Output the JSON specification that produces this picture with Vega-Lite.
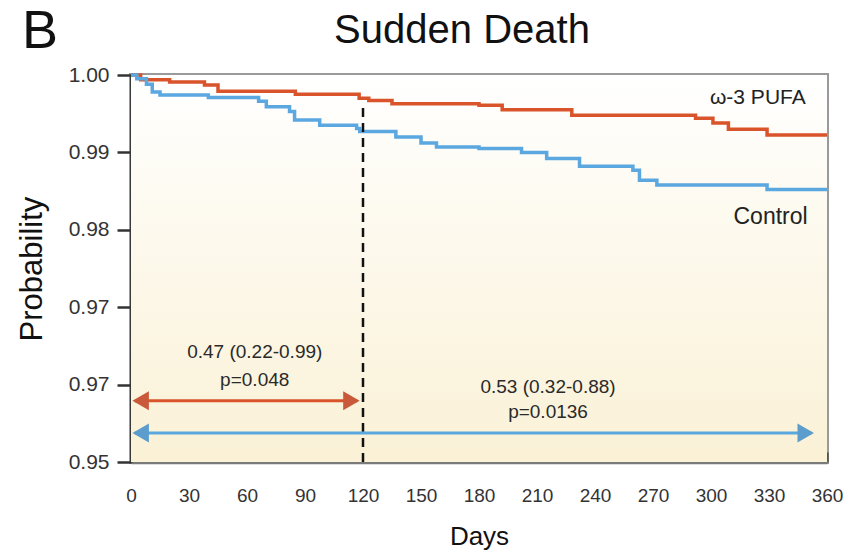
{
  "$schema": "https://vega.github.io/schema/vega-lite/v6.json",
  "width": 696,
  "height": 387,
  "autosize": {"type": "none"},
  "padding": {"left": 131, "top": 75, "right": 36, "bottom": 90},
  "background": "#ffffff",
  "config": {
    "view": {"stroke": "#9a9a9a", "strokeWidth": 4},
    "axis": {"grid": false, "labelFont": "Liberation Sans", "titleFont": "Liberation Sans", "labelColor": "#333333", "titleColor": "#111111", "titleFontWeight": "normal"}
  },
  "datasets": {
    "curves": [
      {"group": "ω-3 PUFA", "day": 0, "prob": 1.0},
      {"group": "ω-3 PUFA", "day": 5, "prob": 0.9994},
      {"group": "ω-3 PUFA", "day": 20, "prob": 0.9991},
      {"group": "ω-3 PUFA", "day": 38, "prob": 0.9987},
      {"group": "ω-3 PUFA", "day": 45, "prob": 0.9979},
      {"group": "ω-3 PUFA", "day": 85, "prob": 0.9975},
      {"group": "ω-3 PUFA", "day": 118, "prob": 0.997},
      {"group": "ω-3 PUFA", "day": 123, "prob": 0.9967},
      {"group": "ω-3 PUFA", "day": 135, "prob": 0.9963},
      {"group": "ω-3 PUFA", "day": 180, "prob": 0.9961},
      {"group": "ω-3 PUFA", "day": 192, "prob": 0.9955},
      {"group": "ω-3 PUFA", "day": 228, "prob": 0.9948},
      {"group": "ω-3 PUFA", "day": 292, "prob": 0.9944},
      {"group": "ω-3 PUFA", "day": 301, "prob": 0.9938},
      {"group": "ω-3 PUFA", "day": 309, "prob": 0.993},
      {"group": "ω-3 PUFA", "day": 329, "prob": 0.99225},
      {"group": "ω-3 PUFA", "day": 360, "prob": 0.99225},
      {"group": "Control", "day": 0, "prob": 1.0},
      {"group": "Control", "day": 3, "prob": 0.9995},
      {"group": "Control", "day": 8, "prob": 0.9988},
      {"group": "Control", "day": 11, "prob": 0.9978},
      {"group": "Control", "day": 15, "prob": 0.9974},
      {"group": "Control", "day": 40, "prob": 0.9971},
      {"group": "Control", "day": 66, "prob": 0.9966},
      {"group": "Control", "day": 70, "prob": 0.9959},
      {"group": "Control", "day": 82, "prob": 0.9953},
      {"group": "Control", "day": 84.6, "prob": 0.9942},
      {"group": "Control", "day": 97.6, "prob": 0.9935},
      {"group": "Control", "day": 116.7, "prob": 0.9931},
      {"group": "Control", "day": 118.3, "prob": 0.9927},
      {"group": "Control", "day": 137, "prob": 0.992},
      {"group": "Control", "day": 150, "prob": 0.9912},
      {"group": "Control", "day": 158, "prob": 0.9907},
      {"group": "Control", "day": 180, "prob": 0.9905},
      {"group": "Control", "day": 202, "prob": 0.99},
      {"group": "Control", "day": 215, "prob": 0.9892},
      {"group": "Control", "day": 232, "prob": 0.9882},
      {"group": "Control", "day": 259.6, "prob": 0.9877},
      {"group": "Control", "day": 263, "prob": 0.9864},
      {"group": "Control", "day": 272, "prob": 0.9858},
      {"group": "Control", "day": 325, "prob": 0.9858},
      {"group": "Control", "day": 329, "prob": 0.9852},
      {"group": "Control", "day": 360, "prob": 0.9852}
    ],
    "arrows": [
      {"period": "early", "start": 2, "end": 117, "prob": 0.9579},
      {"period": "late", "start": 2, "end": 352, "prob": 0.95375}
    ],
    "heads": [
      {"period": "early", "day": 5, "prob": 0.9579, "dir": "left"},
      {"period": "early", "day": 114, "prob": 0.9579, "dir": "right"},
      {"period": "late", "day": 5, "prob": 0.95375, "dir": "left"},
      {"period": "late", "day": 349, "prob": 0.95375, "dir": "right"}
    ],
    "notes": [
      {"label": "0.47 (0.22-0.99)", "day": 64, "prob": 0.9642},
      {"label": "p=0.048", "day": 64, "prob": 0.9606},
      {"label": "0.53 (0.32-0.88)", "day": 215.7, "prob": 0.9597},
      {"label": "p=0.0136", "day": 215.7, "prob": 0.9565}
    ],
    "one": [{}]
  },
  "encoding": {
    "x": {
      "type": "quantitative",
      "scale": {"domain": [0, 360], "nice": false, "zero": false},
      "axis": {
        "title": "Days",
        "values": [0, 30, 60, 90, 120, 150, 180, 210, 240, 270, 300, 330, 360],
        "labelFontSize": 19,
        "titleFontSize": 26,
        "titlePadding": 18,
        "tickSize": -10,
        "tickWidth": 2.5,
        "tickColor": "#555555",
        "labelPadding": 34,
        "domainColor": "#7a7a7a",
        "domainWidth": 3.5,
        "labelFlush": false
      }
    },
    "y": {
      "type": "quantitative",
      "scale": {"domain": [0.95, 1.0], "nice": false, "zero": false},
      "axis": {
        "title": "Probability",
        "values": [0.95, 0.96, 0.97, 0.98, 0.99, 1.0],
        "labelExpr": "abs(datum.value - 0.96) < 0.001 ? '0.97' : format(datum.value, '.2f')",
        "labelFontSize": 21,
        "titleFontSize": 31,
        "titlePadding": 20,
        "tickSize": 14,
        "tickWidth": 2.5,
        "tickColor": "#333333",
        "labelPadding": 8,
        "domainColor": "#3a3a3a",
        "domainWidth": 3,
        "labelFlush": false
      }
    }
  },
  "layer": [
    {
      "data": {"name": "one"},
      "mark": {"type": "rect", "fill": {"gradient": "linear", "x1": 0, "y1": 0, "x2": 0, "y2": 1, "stops": [{"offset": 0, "color": "#ffffff"}, {"offset": 0.35, "color": "#fdfaf0"}, {"offset": 1, "color": "#faf1d6"}]}},
      "encoding": {"x": {"datum": 0}, "x2": {"datum": 360}, "y": {"datum": 1.0}, "y2": {"datum": 0.95}}
    },
    {
      "data": {"name": "curves"},
      "mark": {"type": "line", "interpolate": "step-after", "strokeWidth": 3.5},
      "encoding": {
        "x": {"field": "day"},
        "y": {"field": "prob"},
        "color": {"field": "group", "type": "nominal", "scale": {"domain": ["ω-3 PUFA", "Control"], "range": ["#d9542b", "#5ba7e0"]}, "legend": null}
      }
    },
    {
      "data": {"name": "one"},
      "mark": {"type": "rule", "strokeDash": [9, 6], "strokeWidth": 2.5, "color": "#111111"},
      "encoding": {"x": {"datum": 120}, "y": {"datum": 0.95}, "y2": {"datum": 0.9964}}
    },
    {
      "data": {"name": "arrows"},
      "mark": {"type": "rule", "strokeWidth": 3},
      "encoding": {
        "x": {"field": "start"},
        "x2": {"field": "end"},
        "y": {"field": "prob"},
        "color": {"field": "period", "type": "nominal", "scale": {"domain": ["early", "late"], "range": ["#c9593a", "#5b9dcc"]}, "legend": null}
      }
    },
    {
      "data": {"name": "heads"},
      "mark": {"type": "point", "filled": true, "size": 360, "opacity": 1},
      "encoding": {
        "x": {"field": "day"},
        "y": {"field": "prob"},
        "shape": {"field": "dir", "type": "nominal", "scale": {"domain": ["left", "right"], "range": ["triangle-left", "triangle-right"]}, "legend": null},
        "fill": {"field": "period", "type": "nominal", "scale": {"domain": ["early", "late"], "range": ["#c9593a", "#5b9dcc"]}, "legend": null}
      }
    },
    {
      "data": {"name": "notes"},
      "mark": {"type": "text", "font": "Liberation Sans", "fontSize": 19, "color": "#2a2a2a", "align": "center", "baseline": "middle"},
      "encoding": {"x": {"field": "day"}, "y": {"field": "prob"}, "text": {"field": "label"}}
    },
    {
      "data": {"name": "one"},
      "mark": {"type": "text", "font": "Liberation Sans", "fontSize": 21, "color": "#222222", "align": "right", "baseline": "middle"},
      "encoding": {"x": {"datum": 349}, "y": {"datum": 0.99703}, "text": {"value": "ω-3 PUFA"}}
    },
    {
      "data": {"name": "one"},
      "mark": {"type": "text", "font": "Liberation Sans", "fontSize": 23, "color": "#222222", "align": "right", "baseline": "middle"},
      "encoding": {"x": {"datum": 350}, "y": {"datum": 0.98165}, "text": {"value": "Control"}}
    },
    {
      "data": {"name": "one"},
      "mark": {"type": "text", "font": "Liberation Sans", "fontSize": 40, "color": "#111111", "align": "center", "baseline": "middle"},
      "encoding": {"x": {"datum": 171.2}, "y": {"datum": 1.0057}, "text": {"value": "Sudden Death"}}
    },
    {
      "data": {"name": "one"},
      "mark": {"type": "text", "font": "Liberation Sans", "fontSize": 54, "color": "#111111", "align": "center", "baseline": "middle"},
      "encoding": {"x": {"datum": -47}, "y": {"datum": 1.0056}, "text": {"value": "B"}}
    }
  ]
}
